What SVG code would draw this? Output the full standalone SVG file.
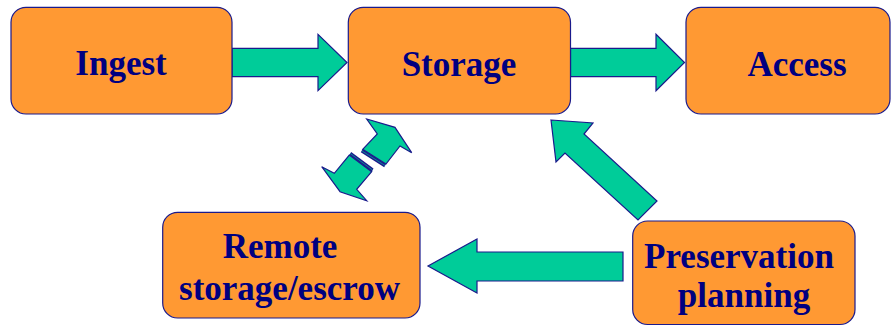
<svg xmlns="http://www.w3.org/2000/svg" width="895" height="327" viewBox="0 0 895 327">
<style>
.box{fill:#FF9933;stroke:#1a1a8c;stroke-width:1.2}
.lbl{font-family:"Liberation Serif","Times New Roman",serif;font-weight:bold;font-size:35px;fill:#000080;text-anchor:middle}
.arr{fill:#00CC99;stroke:#1a1a8c;stroke-width:1.2;stroke-linejoin:miter}
.band{fill:#1a1a8c}
.stripe{stroke:#00CC99;stroke-width:0.6}
</style>
<rect width="895" height="327" fill="#ffffff"/>
<g id="connectors">
<polygon class="arr" points="232,48.3 318,48.3 318,34.3 347,62.5 318,90.7 318,76.7 232,76.7"/>
<polygon class="arr" points="570.5,48.3 656,48.3 656,34.3 684.5,62.5 656,90.7 656,76.7 570.5,76.7"/>
<polygon class="arr" points="623,252 477,252 477,239 428,266 477,293 477,281 623,281"/>
<polygon class="arr" points="551,120 593,123 584,134 657,201 638,220 565,153 556,162"/>
<g id="double-arrow">
<polygon class="band" points="362.7,149.3 386,164 384.2,167.2 360.8,152.3"/>
<line class="stripe" x1="361.8" y1="150.8" x2="385.1" y2="165.6"/>
<polygon class="arr" points="395,127.3 411.7,152.7 400,146 386,164 362.7,149.3 377.3,134 366.7,119"/>
<polygon class="band" points="349.3,155 371.7,171.7 373.5,168.6 351.2,152"/>
<line class="stripe" x1="350.3" y1="153.5" x2="372.6" y2="170.1"/>
<polygon class="arr" points="340,191.7 321.7,166.7 334.3,173.3 349.3,155 371.7,171.7 356.7,189.3 366.7,200.7"/>
</g>
</g>
<g id="ingest">
<rect class="box" x="11" y="7.3" width="221" height="106.7" rx="15" ry="15"/>
<text class="lbl" x="121" y="75">Ingest</text>
</g>
<g id="storage">
<rect class="box" x="348.3" y="7.3" width="222.2" height="106.7" rx="15" ry="15"/>
<text class="lbl" x="459" y="76">Storage</text>
</g>
<g id="access">
<rect class="box" x="686" y="7.3" width="204" height="106.7" rx="15" ry="15"/>
<text class="lbl" x="797" y="76">Access</text>
</g>
<g id="remote">
<rect class="box" x="162.7" y="212.3" width="257.3" height="105.7" rx="15" ry="15"/>
<text class="lbl" x="280" y="258.3">Remote</text>
<text class="lbl" x="289.5" y="299.5">storage/escrow</text>
</g>
<g id="preservation">
<rect class="box" x="632.7" y="221" width="222.3" height="103.5" rx="15" ry="15"/>
<text class="lbl" x="739" y="268.3">Preservation</text>
<text class="lbl" x="744" y="306.5">planning</text>
</g>
</svg>
